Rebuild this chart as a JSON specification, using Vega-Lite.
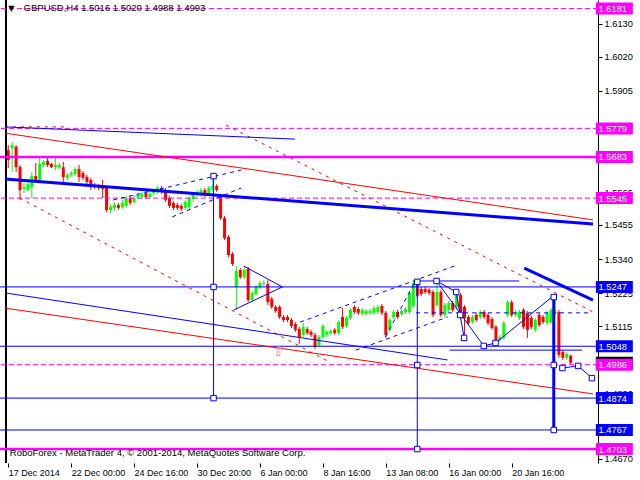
{
"$schema": "https://vega.github.io/schema/vega-lite/v6.json",
"width": 598, "height": 463,
"autosize": {"type": "none"},
"padding": {"left": 0, "top": 0, "right": 42, "bottom": 17},
"background": "white",
"config": {"view": {"stroke": null}, "font": "Liberation Sans"},
"resolve": {"axis": {"x": "independent", "y": "independent"}},
"datasets": {
"candles": [
{"i":0,"o":1.5706,"h":1.5723,"l":1.5646,"c":1.5673},
{"i":1,"o":1.5713,"h":1.5733,"l":1.5633,"c":1.5723},
{"i":2,"o":1.5717,"h":1.5723,"l":1.5633,"c":1.5649},
{"i":3,"o":1.5649,"h":1.5656,"l":1.5539,"c":1.5572},
{"i":4,"o":1.5576,"h":1.5596,"l":1.5562,"c":1.5582},
{"i":5,"o":1.5572,"h":1.5599,"l":1.5569,"c":1.5592},
{"i":6,"o":1.5582,"h":1.5633,"l":1.5545,"c":1.5619},
{"i":7,"o":1.5619,"h":1.5663,"l":1.5599,"c":1.5606},
{"i":8,"o":1.5606,"h":1.5680,"l":1.5599,"c":1.5660},
{"i":9,"o":1.5656,"h":1.5673,"l":1.5649,"c":1.5666},
{"i":10,"o":1.5670,"h":1.5680,"l":1.5649,"c":1.5656},
{"i":11,"o":1.5660,"h":1.5663,"l":1.5646,"c":1.5649},
{"i":12,"o":1.5649,"h":1.5680,"l":1.5639,"c":1.5656},
{"i":13,"o":1.5649,"h":1.5663,"l":1.5643,"c":1.5656},
{"i":14,"o":1.5649,"h":1.5666,"l":1.5599,"c":1.5616},
{"i":15,"o":1.5613,"h":1.5629,"l":1.5606,"c":1.5623},
{"i":16,"o":1.5623,"h":1.5636,"l":1.5616,"c":1.5629},
{"i":17,"o":1.5626,"h":1.5649,"l":1.5619,"c":1.5643},
{"i":18,"o":1.5643,"h":1.5656,"l":1.5599,"c":1.5616},
{"i":19,"o":1.5629,"h":1.5636,"l":1.5606,"c":1.5613},
{"i":20,"o":1.5616,"h":1.5623,"l":1.5592,"c":1.5599},
{"i":21,"o":1.5606,"h":1.5613,"l":1.5572,"c":1.5582},
{"i":22,"o":1.5589,"h":1.5596,"l":1.5576,"c":1.5582},
{"i":23,"o":1.5586,"h":1.5592,"l":1.5572,"c":1.5579},
{"i":24,"o":1.5589,"h":1.5606,"l":1.5545,"c":1.5576},
{"i":25,"o":1.5579,"h":1.5586,"l":1.5498,"c":1.5505},
{"i":26,"o":1.5505,"h":1.5525,"l":1.5495,"c":1.5515},
{"i":27,"o":1.5512,"h":1.5532,"l":1.5502,"c":1.5522},
{"i":28,"o":1.5522,"h":1.5529,"l":1.5505,"c":1.5512},
{"i":29,"o":1.5515,"h":1.5539,"l":1.5509,"c":1.5529},
{"i":30,"o":1.5519,"h":1.5552,"l":1.5512,"c":1.5545},
{"i":31,"o":1.5545,"h":1.5552,"l":1.5522,"c":1.5529},
{"i":32,"o":1.5532,"h":1.5556,"l":1.5525,"c":1.5545},
{"i":33,"o":1.5549,"h":1.5562,"l":1.5542,"c":1.5556},
{"i":34,"o":1.5549,"h":1.5566,"l":1.5542,"c":1.5559},
{"i":35,"o":1.5562,"h":1.5569,"l":1.5542,"c":1.5549},
{"i":36,"o":1.5549,"h":1.5566,"l":1.5542,"c":1.5559},
{"i":37,"o":1.5562,"h":1.5576,"l":1.5556,"c":1.5569},
{"i":38,"o":1.5566,"h":1.5586,"l":1.5559,"c":1.5579},
{"i":39,"o":1.5579,"h":1.5586,"l":1.5559,"c":1.5566},
{"i":40,"o":1.5572,"h":1.5579,"l":1.5532,"c":1.5539},
{"i":41,"o":1.5545,"h":1.5552,"l":1.5512,"c":1.5519},
{"i":42,"o":1.5529,"h":1.5535,"l":1.5505,"c":1.5512},
{"i":43,"o":1.5522,"h":1.5529,"l":1.5505,"c":1.5512},
{"i":44,"o":1.5519,"h":1.5525,"l":1.5502,"c":1.5509},
{"i":45,"o":1.5512,"h":1.5539,"l":1.5505,"c":1.5532},
{"i":46,"o":1.5515,"h":1.5552,"l":1.5505,"c":1.5545},
{"i":47,"o":1.5542,"h":1.5566,"l":1.5535,"c":1.5559},
{"i":48,"o":1.5556,"h":1.5572,"l":1.5549,"c":1.5566},
{"i":49,"o":1.5556,"h":1.5579,"l":1.5549,"c":1.5572},
{"i":50,"o":1.5572,"h":1.5579,"l":1.5549,"c":1.5556},
{"i":51,"o":1.5559,"h":1.5586,"l":1.5552,"c":1.5579},
{"i":52,"o":1.5576,"h":1.5623,"l":1.5569,"c":1.5586},
{"i":53,"o":1.5586,"h":1.5592,"l":1.5566,"c":1.5572},
{"i":54,"o":1.5549,"h":1.5556,"l":1.5472,"c":1.5478},
{"i":55,"o":1.5478,"h":1.5485,"l":1.5404,"c":1.5411},
{"i":56,"o":1.5415,"h":1.5421,"l":1.5347,"c":1.5354},
{"i":57,"o":1.5358,"h":1.5364,"l":1.5317,"c":1.5324},
{"i":58,"o":1.5247,"h":1.5317,"l":1.5170,"c":1.5300},
{"i":59,"o":1.5304,"h":1.5310,"l":1.5274,"c":1.5280},
{"i":60,"o":1.5280,"h":1.5317,"l":1.5274,"c":1.5304},
{"i":61,"o":1.5307,"h":1.5314,"l":1.5196,"c":1.5203},
{"i":62,"o":1.5203,"h":1.5233,"l":1.5196,"c":1.5227},
{"i":63,"o":1.5223,"h":1.5253,"l":1.5217,"c":1.5247},
{"i":64,"o":1.5247,"h":1.5267,"l":1.5240,"c":1.5260},
{"i":65,"o":1.5257,"h":1.5270,"l":1.5250,"c":1.5260},
{"i":66,"o":1.5257,"h":1.5270,"l":1.5186,"c":1.5196},
{"i":67,"o":1.5207,"h":1.5213,"l":1.5173,"c":1.5180},
{"i":68,"o":1.5180,"h":1.5186,"l":1.5160,"c":1.5166},
{"i":69,"o":1.5180,"h":1.5186,"l":1.5139,"c":1.5146},
{"i":70,"o":1.5146,"h":1.5153,"l":1.5129,"c":1.5136},
{"i":71,"o":1.5146,"h":1.5153,"l":1.5129,"c":1.5136},
{"i":72,"o":1.5136,"h":1.5143,"l":1.5109,"c":1.5116},
{"i":73,"o":1.5123,"h":1.5129,"l":1.5096,"c":1.5103},
{"i":74,"o":1.5106,"h":1.5113,"l":1.5056,"c":1.5079},
{"i":75,"o":1.5086,"h":1.5126,"l":1.5079,"c":1.5113},
{"i":76,"o":1.5106,"h":1.5113,"l":1.5086,"c":1.5092},
{"i":77,"o":1.5096,"h":1.5103,"l":1.5079,"c":1.5086},
{"i":78,"o":1.5086,"h":1.5092,"l":1.5039,"c":1.5046},
{"i":79,"o":1.5052,"h":1.5086,"l":1.5046,"c":1.5079},
{"i":80,"o":1.5079,"h":1.5123,"l":1.5072,"c":1.5116},
{"i":81,"o":1.5086,"h":1.5103,"l":1.5079,"c":1.5096},
{"i":82,"o":1.5092,"h":1.5106,"l":1.5086,"c":1.5099},
{"i":83,"o":1.5103,"h":1.5109,"l":1.5086,"c":1.5092},
{"i":84,"o":1.5092,"h":1.5136,"l":1.5086,"c":1.5129},
{"i":85,"o":1.5146,"h":1.5176,"l":1.5106,"c":1.5113},
{"i":86,"o":1.5116,"h":1.5150,"l":1.5109,"c":1.5143},
{"i":87,"o":1.5143,"h":1.5176,"l":1.5136,"c":1.5170},
{"i":88,"o":1.5180,"h":1.5186,"l":1.5156,"c":1.5163},
{"i":89,"o":1.5173,"h":1.5180,"l":1.5153,"c":1.5160},
{"i":90,"o":1.5156,"h":1.5176,"l":1.5150,"c":1.5170},
{"i":91,"o":1.5156,"h":1.5173,"l":1.5150,"c":1.5166},
{"i":92,"o":1.5160,"h":1.5173,"l":1.5153,"c":1.5166},
{"i":93,"o":1.5160,"h":1.5183,"l":1.5153,"c":1.5176},
{"i":94,"o":1.5163,"h":1.5186,"l":1.5156,"c":1.5180},
{"i":95,"o":1.5183,"h":1.5190,"l":1.5153,"c":1.5160},
{"i":96,"o":1.5160,"h":1.5166,"l":1.5076,"c":1.5086},
{"i":97,"o":1.5103,"h":1.5143,"l":1.5096,"c":1.5136},
{"i":98,"o":1.5146,"h":1.5170,"l":1.5139,"c":1.5163},
{"i":99,"o":1.5163,"h":1.5170,"l":1.5139,"c":1.5146},
{"i":100,"o":1.5156,"h":1.5173,"l":1.5150,"c":1.5166},
{"i":101,"o":1.5163,"h":1.5180,"l":1.5156,"c":1.5173},
{"i":102,"o":1.5163,"h":1.5233,"l":1.5156,"c":1.5227},
{"i":103,"o":1.5183,"h":1.5267,"l":1.5176,"c":1.5260},
{"i":104,"o":1.5260,"h":1.5267,"l":1.5210,"c":1.5217},
{"i":105,"o":1.5240,"h":1.5247,"l":1.5217,"c":1.5223},
{"i":106,"o":1.5240,"h":1.5247,"l":1.5223,"c":1.5230},
{"i":107,"o":1.5237,"h":1.5243,"l":1.5220,"c":1.5227},
{"i":108,"o":1.5230,"h":1.5237,"l":1.5146,"c":1.5153},
{"i":109,"o":1.5186,"h":1.5267,"l":1.5180,"c":1.5230},
{"i":110,"o":1.5230,"h":1.5237,"l":1.5146,"c":1.5153},
{"i":111,"o":1.5153,"h":1.5193,"l":1.5146,"c":1.5186},
{"i":112,"o":1.5170,"h":1.5200,"l":1.5163,"c":1.5193},
{"i":113,"o":1.5193,"h":1.5200,"l":1.5163,"c":1.5170},
{"i":114,"o":1.5180,"h":1.5233,"l":1.5173,"c":1.5227},
{"i":115,"o":1.5220,"h":1.5227,"l":1.5139,"c":1.5146},
{"i":116,"o":1.5180,"h":1.5186,"l":1.5076,"c":1.5143},
{"i":117,"o":1.5146,"h":1.5153,"l":1.5119,"c":1.5126},
{"i":118,"o":1.5129,"h":1.5153,"l":1.5123,"c":1.5146},
{"i":119,"o":1.5153,"h":1.5160,"l":1.5129,"c":1.5136},
{"i":120,"o":1.5146,"h":1.5170,"l":1.5139,"c":1.5163},
{"i":121,"o":1.5163,"h":1.5170,"l":1.5139,"c":1.5146},
{"i":122,"o":1.5153,"h":1.5160,"l":1.5119,"c":1.5126},
{"i":123,"o":1.5139,"h":1.5146,"l":1.5103,"c":1.5109},
{"i":124,"o":1.5113,"h":1.5119,"l":1.5059,"c":1.5069},
{"i":125,"o":1.5069,"h":1.5086,"l":1.5062,"c":1.5079},
{"i":126,"o":1.5076,"h":1.5133,"l":1.5069,"c":1.5126},
{"i":127,"o":1.5153,"h":1.5203,"l":1.5146,"c":1.5196},
{"i":128,"o":1.5196,"h":1.5203,"l":1.5146,"c":1.5153},
{"i":129,"o":1.5153,"h":1.5170,"l":1.5146,"c":1.5163},
{"i":130,"o":1.5143,"h":1.5170,"l":1.5136,"c":1.5163},
{"i":131,"o":1.5170,"h":1.5176,"l":1.5106,"c":1.5113},
{"i":132,"o":1.5160,"h":1.5166,"l":1.5076,"c":1.5103},
{"i":133,"o":1.5143,"h":1.5150,"l":1.5106,"c":1.5113},
{"i":134,"o":1.5103,"h":1.5143,"l":1.5096,"c":1.5136},
{"i":135,"o":1.5153,"h":1.5160,"l":1.5113,"c":1.5119},
{"i":136,"o":1.5146,"h":1.5153,"l":1.5123,"c":1.5129},
{"i":137,"o":1.5126,"h":1.5166,"l":1.5119,"c":1.5160},
{"i":138,"o":1.5129,"h":1.5176,"l":1.5123,"c":1.5170},
{"i":139,"o":1.5160,"h":1.5220,"l":1.5153,"c":1.5170},
{"i":140,"o":1.5163,"h":1.5170,"l":1.5009,"c":1.5019},
{"i":141,"o":1.5029,"h":1.5035,"l":1.5002,"c":1.5009},
{"i":142,"o":1.5009,"h":1.5029,"l":1.5002,"c":1.5022},
{"i":143,"o":1.5016,"h":1.5020,"l":1.4988,"c":1.4993}
],
"magThick": [{"p":1.5683},{"p":1.4703}],
"magDash": [{"p":1.6181},{"p":1.5779},{"p":1.5545},{"p":1.4986}],
"blueLevels": [{"p":1.5247},{"p":1.5048},{"p":1.4874},{"p":1.4767}],
"blueThick": [
{"i":-0.825,"p":1.5609,"i2":148.675,"p2":1.5458},
{"i":131.2,"p":1.5310,"i2":148.675,"p2":1.5203},
{"i":138.7,"p":1.5220,"i2":138.7,"p2":1.4767}
],
"blueThin": [
{"i":-0.825,"p":1.5784,"i2":72.9,"p2":1.5743},
{"i":-0.825,"p":1.5227,"i2":111.7,"p2":1.5002},
{"i":52.2,"p":1.5619,"i2":52.2,"p2":1.4874},
{"i":104,"p":1.5267,"i2":104,"p2":1.4703},
{"i":103.7,"p":1.5267,"i2":129.9,"p2":1.5267},
{"i":112.2,"p":1.5035,"i2":145.9,"p2":1.5035},
{"i":59.9,"p":1.5317,"i2":69.7,"p2":1.5247},
{"i":57.4,"p":1.5170,"i2":69.7,"p2":1.5247},
{"i":108.9,"p":1.5267,"i2":120.9,"p2":1.5049},
{"i":108.9,"p":1.5267,"i2":113.9,"p2":1.5230},
{"i":113.9,"p":1.5230,"i2":115.9,"p2":1.5076},
{"i":120.9,"p":1.5049,"i2":123.9,"p2":1.5059},
{"i":123.9,"p":1.5059,"i2":138.9,"p2":1.5220},
{"i":140.9,"p":1.4975,"i2":144.9,"p2":1.4982},
{"i":144.9,"p":1.4982,"i2":148.4,"p2":1.4941}
],
"blueDash": [
{"i":26.7,"p":1.5539,"i2":59.2,"p2":1.5639},
{"i":41.7,"p":1.5482,"i2":59.2,"p2":1.5579},
{"i":74.2,"p":1.5129,"i2":113.4,"p2":1.5317},
{"i":88.4,"p":1.5035,"i2":111.7,"p2":1.5146},
{"i":95.9,"p":1.5079,"i2":103.4,"p2":1.5264},
{"i":103.7,"p":1.5160,"i2":147.4,"p2":1.5160}
],
"redSolid": [
{"i":-0.825,"p":1.5763,"i2":148.675,"p2":1.5472},
{"i":-0.825,"p":1.5176,"i2":148.675,"p2":1.4888}
],
"redDash": [
{"i":55.4,"p":1.5790,"i2":148.675,"p2":1.5163},
{"i":2.9,"p":1.5545,"i2":81.7,"p2":1.4995},
{"i":-0.825,"p":1.5784,"i2":14.2,"p2":1.5784}
],
"border": [{"i":-0.575}],
"squares": [
{"i":52.2,"p":1.5619},{"i":52.2,"p":1.5247},{"i":52.2,"p":1.4874},
{"i":104,"p":1.5264},{"i":104,"p":1.4985},{"i":104,"p":1.4703},
{"i":108.9,"p":1.5267},{"i":113.9,"p":1.5230},{"i":114.9,"p":1.5153},
{"i":115.9,"p":1.5076},{"i":120.9,"p":1.5049},{"i":123.9,"p":1.5059},
{"i":138.7,"p":1.5213},{"i":138.7,"p":1.4985},{"i":138.7,"p":1.4767},
{"i":140.9,"p":1.4975},{"i":144.9,"p":1.4982},{"i":148.4,"p":1.4941}
],
"arrow": [{"i":68.7,"p":1.5029}],
"magLabels": [{"p":1.6181},{"p":1.5779},{"p":1.5683},{"p":1.5545},{"p":1.4986},{"p":1.4703}],
"blueLabels": [{"p":1.5247},{"p":1.5048},{"p":1.4874},{"p":1.4767}],
"bidLabel": [{"p":1.4993}],
"title": [{"i":3.9,"p":1.6183,"t":"GBPUSD,H4 1.5016 1.5020 1.4988 1.4993"}],
"tri": [{"i":0.8,"p":1.6181,"t":"▼"}],
"copyright": [{"i":0.4,"p":1.46897,"t":"RoboForex - MetaTrader 4, © 2001-2014, MetaQuotes Software Corp."}]
},
"layer": [
{
"data": {"name": "candles"},
"mark": {"type": "rule", "strokeWidth": 1},
"encoding": {
"x": {"field": "i", "type": "quantitative", "scale": {"domain": [-0.825, 148.675], "nice": false, "zero": false},
 "axis": {"values": [0,16,32,48,64,80,96,112,128], "labelExpr": "datum.value==0?'17 Dec 2014':datum.value==16?'22 Dec 00:00':datum.value==32?'24 Dec 16:00':datum.value==48?'30 Dec 20:00':datum.value==64?'6 Jan 00:00':datum.value==80?'8 Jan 16:00':datum.value==96?'13 Jan 08:00':datum.value==112?'16 Jan 00:00':'20 Jan 16:00'",
  "labelAlign": "left", "labelBaseline": "top", "labelPadding": 1, "labelDx": 1, "labelFontSize": 9, "labelColor": "black", "labelFont": "Liberation Sans",
  "tickSize": 4, "tickColor": "black", "domain": false, "grid": false, "title": null, "labelOverlap": false, "labelFlush": false, "labelBound": false}},
"y": {"field": "l", "type": "quantitative", "scale": {"domain": [1.46562, 1.62098], "nice": false, "zero": false},
 "axis": {"orient": "right", "values": [1.4670,1.4780,1.4890,1.5000,1.5115,1.5225,1.5340,1.5455,1.5565,1.5675,1.5790,1.5905,1.6020,1.6130], "format": ".4f",
  "labelFontSize": 9.3, "labelColor": "black", "labelFont": "Liberation Sans", "tickSize": 4, "tickColor": "black", "labelPadding": 2, "domainColor": "black", "grid": false, "title": null, "labelOverlap": false, "labelFlush": false, "labelBound": false}},
"y2": {"field": "h"},
"color": {"condition": {"test": "datum.c > datum.o", "value": "#00ff00"}, "value": "#ff0000"}
}
},
{
"data": {"name": "candles"},
"mark": {"type": "bar", "size": 3},
"encoding": {
"x": {"field": "i", "type": "quantitative", "scale": {"domain": [-0.825, 148.675], "nice": false, "zero": false}, "axis": null},
"y": {"field": "o", "type": "quantitative", "scale": {"domain": [1.46562, 1.62098], "nice": false, "zero": false}, "axis": null},
"y2": {"field": "c"},
"color": {"condition": {"test": "datum.c > datum.o", "value": "#00ff00"}, "value": "#ff0000"}
}
},
{
"data": {"name": "border"},
"mark": {"type": "rule", "color": "black", "strokeWidth": 2},
"encoding": {"x": {"field": "i", "type": "quantitative", "scale": {"domain": [-0.825, 148.675], "nice": false, "zero": false}, "axis": null}}
},
{
"data": {"name": "magThick"},
"mark": {"type": "rule", "color": "#ff00ff", "strokeWidth": 2.5},
"encoding": {"y": {"field": "p", "type": "quantitative", "scale": {"domain": [1.46562, 1.62098], "nice": false, "zero": false}, "axis": null}}
},
{
"data": {"name": "magDash"},
"mark": {"type": "rule", "color": "#ff00ff", "strokeWidth": 1, "strokeDash": [5, 3]},
"encoding": {"y": {"field": "p", "type": "quantitative", "scale": {"domain": [1.46562, 1.62098], "nice": false, "zero": false}, "axis": null}}
},
{
"data": {"name": "blueLevels"},
"mark": {"type": "rule", "color": "#0000ff", "strokeWidth": 1},
"encoding": {"y": {"field": "p", "type": "quantitative", "scale": {"domain": [1.46562, 1.62098], "nice": false, "zero": false}, "axis": null}}
},
{
"data": {"name": "redSolid"},
"mark": {"type": "rule", "color": "#ff0000", "strokeWidth": 1},
"encoding": {
"x": {"field": "i", "type": "quantitative", "scale": {"domain": [-0.825, 148.675], "nice": false, "zero": false}, "axis": null},
"y": {"field": "p", "type": "quantitative", "scale": {"domain": [1.46562, 1.62098], "nice": false, "zero": false}, "axis": null},
"x2": {"field": "i2"}, "y2": {"field": "p2"}}
},
{
"data": {"name": "redDash"},
"mark": {"type": "rule", "color": "#ff0000", "strokeWidth": 1, "strokeDash": [3, 5]},
"encoding": {
"x": {"field": "i", "type": "quantitative", "scale": {"domain": [-0.825, 148.675], "nice": false, "zero": false}, "axis": null},
"y": {"field": "p", "type": "quantitative", "scale": {"domain": [1.46562, 1.62098], "nice": false, "zero": false}, "axis": null},
"x2": {"field": "i2"}, "y2": {"field": "p2"}}
},
{
"data": {"name": "blueDash"},
"mark": {"type": "rule", "color": "#0000ff", "strokeWidth": 1, "strokeDash": [4, 4]},
"encoding": {
"x": {"field": "i", "type": "quantitative", "scale": {"domain": [-0.825, 148.675], "nice": false, "zero": false}, "axis": null},
"y": {"field": "p", "type": "quantitative", "scale": {"domain": [1.46562, 1.62098], "nice": false, "zero": false}, "axis": null},
"x2": {"field": "i2"}, "y2": {"field": "p2"}}
},
{
"data": {"name": "blueThin"},
"mark": {"type": "rule", "color": "#0000ff", "strokeWidth": 1},
"encoding": {
"x": {"field": "i", "type": "quantitative", "scale": {"domain": [-0.825, 148.675], "nice": false, "zero": false}, "axis": null},
"y": {"field": "p", "type": "quantitative", "scale": {"domain": [1.46562, 1.62098], "nice": false, "zero": false}, "axis": null},
"x2": {"field": "i2"}, "y2": {"field": "p2"}}
},
{
"data": {"name": "blueThick"},
"mark": {"type": "rule", "color": "#0000ff", "strokeWidth": 3},
"encoding": {
"x": {"field": "i", "type": "quantitative", "scale": {"domain": [-0.825, 148.675], "nice": false, "zero": false}, "axis": null},
"y": {"field": "p", "type": "quantitative", "scale": {"domain": [1.46562, 1.62098], "nice": false, "zero": false}, "axis": null},
"x2": {"field": "i2"}, "y2": {"field": "p2"}}
},
{
"data": {"name": "squares"},
"mark": {"type": "point", "shape": "square", "size": 30, "filled": false, "color": "#0000ff", "strokeWidth": 1, "fill": "white", "fillOpacity": 1},
"encoding": {
"x": {"field": "i", "type": "quantitative", "scale": {"domain": [-0.825, 148.675], "nice": false, "zero": false}, "axis": null},
"y": {"field": "p", "type": "quantitative", "scale": {"domain": [1.46562, 1.62098], "nice": false, "zero": false}, "axis": null}}
},
{
"data": {"name": "arrow"},
"mark": {"type": "text", "text": "⇧", "color": "#f08080", "fontSize": 14, "font": "DejaVu Sans", "baseline": "middle"},
"encoding": {
"x": {"field": "i", "type": "quantitative", "scale": {"domain": [-0.825, 148.675], "nice": false, "zero": false}, "axis": null},
"y": {"field": "p", "type": "quantitative", "scale": {"domain": [1.46562, 1.62098], "nice": false, "zero": false}, "axis": null}}
},
{
"data": {"name": "bidLabel"},
"mark": {"type": "rule", "color": "black", "strokeWidth": 12},
"encoding": {
"x": {"datum": 149.4, "type": "quantitative", "scale": {"domain": [-0.825, 148.675], "nice": false, "zero": false}, "axis": null},
"x2": {"datum": 158.8},
"y": {"field": "p", "type": "quantitative", "scale": {"domain": [1.46562, 1.62098], "nice": false, "zero": false}, "axis": null}}
},
{
"data": {"name": "magLabels"},
"mark": {"type": "rule", "color": "#ff00ff", "strokeWidth": 12},
"encoding": {
"x": {"datum": 149.4, "type": "quantitative", "scale": {"domain": [-0.825, 148.675], "nice": false, "zero": false}, "axis": null},
"x2": {"datum": 158.8},
"y": {"field": "p", "type": "quantitative", "scale": {"domain": [1.46562, 1.62098], "nice": false, "zero": false}, "axis": null}}
},
{
"data": {"name": "magLabels"},
"mark": {"type": "text", "color": "white", "fontSize": 9.3, "align": "left", "baseline": "middle", "font": "Liberation Sans", "dy": 0.5},
"encoding": {
"x": {"datum": 150.1, "type": "quantitative", "scale": {"domain": [-0.825, 148.675], "nice": false, "zero": false}, "axis": null},
"y": {"field": "p", "type": "quantitative", "scale": {"domain": [1.46562, 1.62098], "nice": false, "zero": false}, "axis": null},
"text": {"field": "p", "type": "quantitative", "format": ".4f"}}
},
{
"data": {"name": "blueLabels"},
"mark": {"type": "rule", "color": "#0000ff", "strokeWidth": 12},
"encoding": {
"x": {"datum": 149.4, "type": "quantitative", "scale": {"domain": [-0.825, 148.675], "nice": false, "zero": false}, "axis": null},
"x2": {"datum": 158.8},
"y": {"field": "p", "type": "quantitative", "scale": {"domain": [1.46562, 1.62098], "nice": false, "zero": false}, "axis": null}}
},
{
"data": {"name": "blueLabels"},
"mark": {"type": "text", "color": "white", "fontSize": 9.3, "align": "left", "baseline": "middle", "font": "Liberation Sans", "dy": 0.5},
"encoding": {
"x": {"datum": 150.1, "type": "quantitative", "scale": {"domain": [-0.825, 148.675], "nice": false, "zero": false}, "axis": null},
"y": {"field": "p", "type": "quantitative", "scale": {"domain": [1.46562, 1.62098], "nice": false, "zero": false}, "axis": null},
"text": {"field": "p", "type": "quantitative", "format": ".4f"}}
},
{
"data": {"name": "title"},
"mark": {"type": "text", "color": "black", "fontSize": 9.5, "align": "left", "baseline": "middle", "font": "Liberation Sans"},
"encoding": {
"x": {"field": "i", "type": "quantitative", "scale": {"domain": [-0.825, 148.675], "nice": false, "zero": false}, "axis": null},
"y": {"field": "p", "type": "quantitative", "scale": {"domain": [1.46562, 1.62098], "nice": false, "zero": false}, "axis": null},
"text": {"field": "t"}}
},
{
"data": {"name": "tri"},
"mark": {"type": "text", "color": "black", "fontSize": 8, "align": "center", "baseline": "middle", "font": "DejaVu Sans"},
"encoding": {
"x": {"field": "i", "type": "quantitative", "scale": {"domain": [-0.825, 148.675], "nice": false, "zero": false}, "axis": null},
"y": {"field": "p", "type": "quantitative", "scale": {"domain": [1.46562, 1.62098], "nice": false, "zero": false}, "axis": null},
"text": {"field": "t"}}
},
{
"data": {"name": "copyright"},
"mark": {"type": "text", "color": "black", "fontSize": 9.5, "align": "left", "baseline": "middle", "font": "Liberation Sans"},
"encoding": {
"x": {"field": "i", "type": "quantitative", "scale": {"domain": [-0.825, 148.675], "nice": false, "zero": false}, "axis": null},
"y": {"field": "p", "type": "quantitative", "scale": {"domain": [1.46562, 1.62098], "nice": false, "zero": false}, "axis": null},
"text": {"field": "t"}}
}
]
}
